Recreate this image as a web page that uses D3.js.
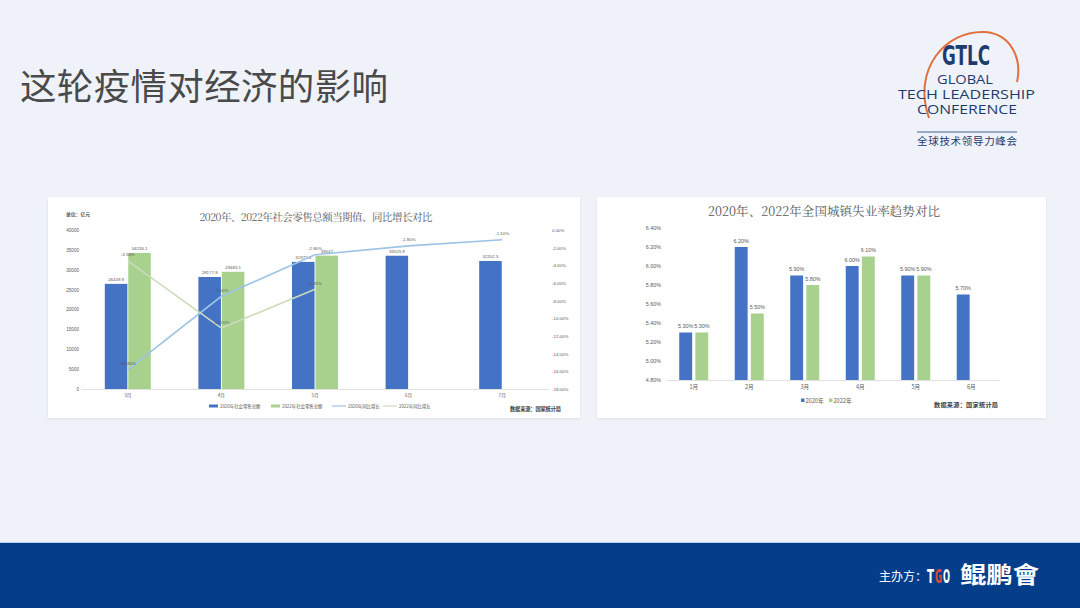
<!DOCTYPE html>
<html><head><meta charset="utf-8">
<script src="https://cdn.jsdelivr.net/npm/d3@7/dist/d3.min.js"></script>
<style>html,body{margin:0;padding:0;background:#eff3f9;}svg{display:block;}</style>
</head><body>
<svg id="c" width="1080" height="608"></svg>
<script>
// ---- data ----
const months1 = ['3月','4月','5月','6月','7月'];
const retail2020 = [26449.9, 28177.8, 31972.8, 33525.9, 32202.5];
const retail2022 = [34233.1, 29483.1, 33547, null, null];
const yoy2020 = [-15.8, -7.5, -2.8, -1.8, -1.1];
const yoy2022 = [-3.5, -11.1, -6.7, null, null];
const retailTicks = [0,5000,10000,15000,20000,25000,30000,35000,40000];
const yoyTicks = [0,-2,-4,-6,-8,-10,-12,-14,-16,-18];
const legend1 = ['2020年社会零售总额','2022年社会零售总额','2020年同比增长','2022年同比增长'];

const months2 = ['1月','2月','3月','4月','5月','6月'];
const unemp2020 = [5.3, 6.2, 5.9, 6.0, 5.9, 5.7];
const unemp2022 = [5.3, 5.5, 5.8, 6.1, 5.9, null];
const unempTicks = [4.8,5.0,5.2,5.4,5.6,5.8,6.0,6.2,6.4];
const legend2 = ['2020年','2022年'];

const BLUE = '#4472c4', GREEN = '#a9d18e', LBLUE = '#9dc3e6', LGREEN = '#c9dcbc';
const TXT = '#595959';
const CJK = '"Noto Sans CJK SC","Noto Sans",sans-serif';

const svg = d3.select('#c');
svg.append('rect').attr('width',1080).attr('height',608).attr('fill','#eff3f9');
const defs = svg.append('defs');
const f = defs.append('filter').attr('id','sh').attr('x','-5%').attr('y','-5%').attr('width','110%').attr('height','110%');
f.append('feDropShadow').attr('dx',0).attr('dy',1).attr('stdDeviation',1.5).attr('flood-color','#9aa6b8').attr('flood-opacity',0.25);

// title
svg.append('text').attr('x',20).attr('y',100).attr('font-family',CJK).attr('font-size',36.5)
  .attr('fill','#4a4a4a').attr('textLength',368).text('这轮疫情对经济的影响');

// logo
const logo = svg.append('g');
logo.append('path').attr('d','M929,118 C912,70 945,30 985,32 C1012,34 1022,60 1017,82')
  .attr('fill','none').attr('stroke','#e0703c').attr('stroke-width',2);
logo.append('text').attr('x',942).attr('y',65).attr('font-family','"Liberation Sans Narrow","DejaVu Sans Condensed",sans-serif')
  .attr('font-weight','bold').attr('font-size',26).attr('fill','#1f3a6e').attr('textLength',48).attr('lengthAdjust','spacingAndGlyphs').text('GTLC');
logo.append('text').attr('x',937).attr('y',84).attr('font-family','"Open Sans",sans-serif').attr('font-size',12.5)
  .attr('fill','#1f3a6e').attr('textLength',56).attr('lengthAdjust','spacingAndGlyphs').text('GLOBAL');
logo.append('text').attr('x',898).attr('y',99).attr('font-family','"Open Sans",sans-serif').attr('font-size',12.5)
  .attr('fill','#1f3a6e').attr('textLength',137).attr('lengthAdjust','spacingAndGlyphs').text('TECH LEADERSHIP');
logo.append('text').attr('x',917).attr('y',114).attr('font-family','"Open Sans",sans-serif').attr('font-size',12.5)
  .attr('fill','#1f3a6e').attr('textLength',100).attr('lengthAdjust','spacingAndGlyphs').text('CONFERENCE');
logo.append('line').attr('x1',917).attr('x2',1017).attr('y1',132).attr('y2',132).attr('stroke','#1f3a6e').attr('stroke-width',0.8);
logo.append('text').attr('x',917).attr('y',145).attr('font-family',CJK).attr('font-size',10.5)
  .attr('fill','#1f3a6e').attr('textLength',100).text('全球技术领导力峰会');

// footer
svg.append('rect').attr('x',0).attr('y',543).attr('width',1080).attr('height',65).attr('fill','#043e8b');
svg.append('line').attr('x1',0).attr('x2',1080).attr('y1',542.5).attr('y2',542.5).attr('stroke','#b8cdea').attr('stroke-width',1);
svg.append('text').attr('x',879).attr('y',581).attr('font-family',CJK).attr('font-size',12).attr('fill','#fff').text('主办方：');
const NARROW = '"Liberation Sans Narrow","DejaVu Sans Condensed",sans-serif';
[['T',927,'#fff'],['G',935,'#e0463c'],['O',943,'#fff']].forEach(d=>{
  svg.append('text').attr('x',d[1]).attr('y',583).attr('font-family',NARROW).attr('font-weight','bold')
    .attr('font-size',14).attr('fill',d[2]).attr('textLength',7).attr('lengthAdjust','spacingAndGlyphs')
    .attr('transform',`translate(${d[1]},583) scale(1,1.35) translate(${-d[1]},-583)`)
    .text(d[0]);
});
svg.append('text').attr('x',960).attr('y',583).attr('font-family',CJK).attr('font-weight','bold').attr('font-size',23)
  .attr('fill','#fff').attr('textLength',79).attr('lengthAdjust','spacingAndGlyphs').text('鲲鹏會');

// cards
svg.append('rect').attr('x',48).attr('y',197).attr('width',532).attr('height',221).attr('fill','#fff').attr('filter','url(#sh)');
svg.append('rect').attr('x',597).attr('y',197).attr('width',449).attr('height',221).attr('fill','#fff').attr('filter','url(#sh)');

// ===== left chart =====
const L = svg.append('g');
L.append('text').attr('x',316).attr('y',221).attr('text-anchor','middle').attr('font-family','"Noto Serif CJK SC","Noto Sans CJK SC",serif')
  .attr('font-size',10.5).attr('fill',TXT).attr('textLength',233).text('2020年、2022年社会零售总额当期值、同比增长对比');
L.append('text').attr('x',66).attr('y',216).attr('font-family',CJK).attr('font-size',4.8).attr('fill',TXT).attr('font-weight','bold').text('单位：亿元');

const x1 = d3.scaleBand().domain(months1).range([81,549]);
const xs1 = d3.scaleBand().domain(['a','b']).range([0,46]).paddingInner(0.04);
const off1 = (x1.bandwidth()-46)/2;
const yL = d3.scaleLinear().domain([0,40000]).range([389,230]);
const yR = d3.scaleLinear().domain([-18,0]).range([389,230]);

const axL = L.append('g').attr('transform','translate(80,0)')
  .call(d3.axisLeft(yL).tickValues(retailTicks).tickSize(0).tickPadding(1).tickFormat(d3.format('d')));
axL.select('.domain').remove();
axL.selectAll('text').attr('font-size',4.6).attr('fill',TXT).attr('font-family','"Liberation Sans",sans-serif');
const axR = L.append('g').attr('transform','translate(551,0)')
  .call(d3.axisRight(yR).tickValues(yoyTicks).tickSize(0).tickPadding(1).tickFormat(d=>d.toFixed(2)+'%'));
axR.select('.domain').remove();
axR.selectAll('text').attr('font-size',4.4).attr('fill',TXT).attr('font-family','"Liberation Sans",sans-serif');
const axB = L.append('g').attr('transform','translate(0,389)').call(d3.axisBottom(x1).tickSize(0).tickPadding(5));
axB.select('.domain').attr('stroke','#d9d9d9').attr('stroke-width',0.8);
axB.selectAll('text').attr('font-size',4.6).attr('fill',TXT).attr('font-family',CJK);

const bars1 = [{k:'a',v:retail2020,c:BLUE},{k:'b',v:retail2022,c:GREEN}];
bars1.forEach(s=>{
  months1.forEach((m,i)=>{
    const v = s.v[i]; if(v==null) return;
    const bx = x1(m)+off1+xs1(s.k);
    L.append('rect').attr('x',bx).attr('y',yL(v)).attr('width',xs1.bandwidth()).attr('height',yL(0)-yL(v)).attr('fill',s.c);
    L.append('text').attr('x',bx+xs1.bandwidth()/2).attr('y',yL(v)-3).attr('text-anchor','middle')
      .attr('font-size',4.4).attr('fill',TXT).attr('font-family','"Liberation Sans",sans-serif').text(String(v));
  });
});
const cx1 = m => x1(m)+x1.bandwidth()/2;
[{v:yoy2020,c:LBLUE},{v:yoy2022,c:LGREEN}].forEach(s=>{
  const pts = months1.map((m,i)=>[m,s.v[i]]).filter(d=>d[1]!=null);
  L.append('path').datum(pts).attr('fill','none').attr('stroke',s.c).attr('stroke-width',1.6)
    .attr('d',d3.line().x(d=>cx1(d[0])).y(d=>yR(d[1])));
});
[yoy2020,yoy2022].forEach(arr=>{
  months1.forEach((m,i)=>{
    const v=arr[i]; if(v==null) return;
    L.append('text').attr('x',cx1(m)).attr('y',yR(v)-4.5).attr('text-anchor','middle')
      .attr('font-size',4.4).attr('fill',TXT).attr('font-family','"Liberation Sans",sans-serif').text(v.toFixed(2)+'%');
  });
});
const lg = L.append('g').attr('font-family',CJK).attr('font-size',4.4).attr('fill',TXT);
const lgX = [209,271,332,383];
legend1.forEach((t,i)=>{
  if(i<2){
    lg.append('rect').attr('x',lgX[i]).attr('y',404.5).attr('width',9).attr('height',3).attr('fill',i==0?BLUE:GREEN);
    lg.append('text').attr('x',lgX[i]+11).attr('y',407.5).text(t);
  } else {
    lg.append('line').attr('x1',lgX[i]).attr('x2',lgX[i]+14).attr('y1',406).attr('y2',406).attr('stroke',i==2?LBLUE:LGREEN).attr('stroke-width',1.2);
    lg.append('text').attr('x',lgX[i]+16).attr('y',407.5).text(t);
  }
});
L.append('text').attr('x',510).attr('y',411).attr('font-family',CJK).attr('font-weight','bold').attr('font-size',5.2)
  .attr('fill','#404040').attr('textLength',51).text('数据来源：国家统计局');

// ===== right chart =====
const R = svg.append('g');
R.append('text').attr('x',824).attr('y',216).attr('text-anchor','middle').attr('font-family','"Noto Serif CJK SC","Noto Sans CJK SC",serif')
  .attr('font-size',12.5).attr('fill',TXT).attr('textLength',232).text('2020年、2022年全国城镇失业率趋势对比');
const x2 = d3.scaleBand().domain(months2).range([666,999]);
const xs2 = d3.scaleBand().domain(['a','b']).range([0,29]).paddingInner(0.2);
const off2 = (x2.bandwidth()-29)/2;
const y2 = d3.scaleLinear().domain([4.8,6.4]).range([380,228]);
const ay2 = R.append('g').attr('transform','translate(661,0)')
  .call(d3.axisLeft(y2).tickValues(unempTicks).tickSize(0).tickPadding(0).tickFormat(d=>d.toFixed(2)+'%'));
ay2.select('.domain').remove();
ay2.selectAll('text').attr('font-size',5.4).attr('fill',TXT).attr('font-family','"Liberation Sans",sans-serif');
const ax2 = R.append('g').attr('transform','translate(0,380)').call(d3.axisBottom(x2).tickSize(0).tickPadding(5));
ax2.select('.domain').attr('stroke','#d9d9d9').attr('stroke-width',0.8);
ax2.selectAll('text').attr('font-size',5.6).attr('fill',TXT).attr('font-family',CJK);
[{k:'a',v:unemp2020,c:BLUE},{k:'b',v:unemp2022,c:GREEN}].forEach(s=>{
  months2.forEach((m,i)=>{
    const v=s.v[i]; if(v==null) return;
    const bx = x2(m)+off2+xs2(s.k);
    R.append('rect').attr('x',bx).attr('y',y2(v)).attr('width',xs2.bandwidth()).attr('height',y2(4.8)-y2(v)).attr('fill',s.c);
    R.append('text').attr('x',bx+xs2.bandwidth()/2).attr('y',y2(v)-4.5).attr('text-anchor','middle')
      .attr('font-size',5.4).attr('fill',TXT).attr('font-family','"Liberation Sans",sans-serif').text(v.toFixed(2)+'%');
  });
});
const lg2 = R.append('g').attr('font-family',CJK).attr('font-size',5.6).attr('fill',TXT);
legend2.forEach((t,i)=>{
  const lx = 801 + i*28;
  lg2.append('rect').attr('x',lx).attr('y',398.5).attr('width',3.5).attr('height',3.5).attr('fill',i==0?BLUE:GREEN);
  lg2.append('text').attr('x',lx+4.5).attr('y',402.5).text(t);
});
R.append('text').attr('x',934).attr('y',407).attr('font-family',CJK).attr('font-weight','bold').attr('font-size',6.2)
  .attr('fill','#404040').attr('textLength',64).text('数据来源：国家统计局');
</script>
</body></html>
